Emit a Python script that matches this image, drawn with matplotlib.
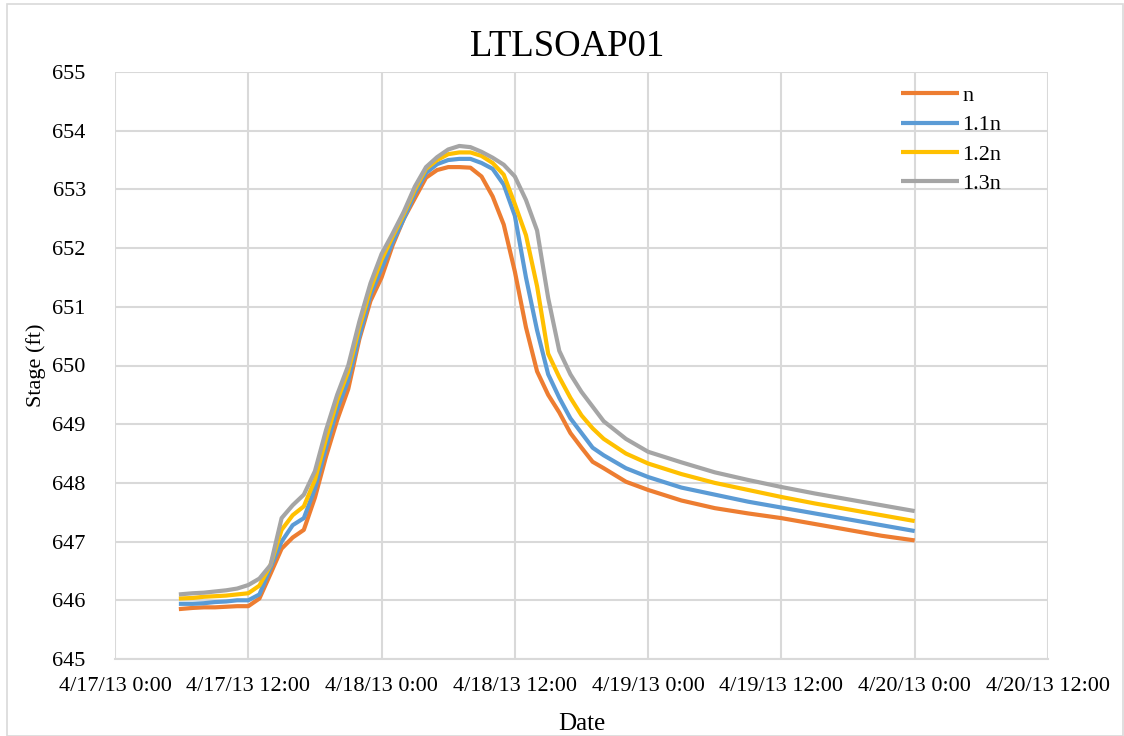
import datetime as dt
import matplotlib
matplotlib.use("Agg")
import matplotlib.pyplot as plt
import matplotlib.dates as mdates
from matplotlib.patches import Rectangle

plt.rcParams['font.family'] = ['Liberation Serif', 'DejaVu Serif']

# Hours since 4/17/13 0:00
hours = [5.75, 7, 8, 9, 10, 11, 12, 13, 14, 15, 16, 17, 18, 19, 20, 21, 22, 23, 24,
         25, 26, 27, 28, 29, 30, 31, 32, 33, 34, 35, 36, 37, 38, 39, 40, 41, 42, 43, 44,
         46, 48, 51, 54, 57, 60, 63, 66, 69, 72]

stage_n = [645.85, 645.87, 645.88, 645.88, 645.89, 645.90, 645.90, 646.03, 646.45, 646.88,
           647.07, 647.20, 647.75, 648.45, 649.07, 649.60, 650.45, 651.10, 651.50,
           652.05, 652.50, 652.85, 653.20, 653.33, 653.38, 653.38, 653.37, 653.22, 652.88,
           652.40, 651.60, 650.65, 649.90, 649.50, 649.20, 648.85, 648.60, 648.36, 648.25,
           648.02, 647.88, 647.70, 647.57, 647.48, 647.40, 647.30, 647.20, 647.10, 647.02]

stage_11n = [645.94, 645.94, 645.95, 645.97, 645.98, 646.00, 646.00, 646.10, 646.55, 647.00,
             647.28, 647.40, 647.90, 648.60, 649.25, 649.75, 650.50, 651.20, 651.65,
             652.10, 652.50, 652.93, 653.28, 653.43, 653.50, 653.52, 653.52, 653.45, 653.35,
             653.08, 652.55, 651.50, 650.60, 649.85, 649.45, 649.10, 648.85, 648.60, 648.47,
             648.25, 648.10, 647.92, 647.80, 647.68, 647.58, 647.48, 647.38, 647.28, 647.18]

stage_12n = [646.03, 646.04, 646.06, 646.07, 646.08, 646.10, 646.12, 646.25, 646.60, 647.20,
             647.45, 647.60, 648.05, 648.75, 649.40, 649.90, 650.65, 651.30, 651.80,
             652.20, 652.58, 653.00, 653.35, 653.50, 653.60, 653.63, 653.63, 653.57, 653.45,
             653.25, 652.75, 652.22, 651.35, 650.20, 649.80, 649.45, 649.15, 648.93, 648.75,
             648.50, 648.33, 648.15, 648.00, 647.88, 647.76, 647.65, 647.55, 647.45, 647.35]

stage_13n = [646.10, 646.12, 646.13, 646.15, 646.17, 646.20, 646.26, 646.37, 646.60, 647.40,
             647.62, 647.80, 648.20, 648.90, 649.50, 650.00, 650.75, 651.40, 651.90,
             652.25, 652.62, 653.05, 653.38, 653.55, 653.68, 653.74, 653.72, 653.64, 653.54,
             653.42, 653.22, 652.82, 652.30, 651.15, 650.25, 649.85, 649.55, 649.30, 649.05,
             648.75, 648.53, 648.35, 648.18, 648.05, 647.93, 647.82, 647.72, 647.62, 647.52]

series_labels = ['n', '1.1n', '1.2n', '1.3n']
series_colors = ['#ED7D31', '#5B9BD5', '#FFC000', '#A5A5A5']

start = dt.datetime(2013, 4, 17, 0, 0)
times = [start + dt.timedelta(hours=h) for h in hours]

fig = plt.figure(figsize=(11.24, 7.36), dpi=100)
ax = fig.add_axes([115/1124, 1 - 659/736, (1048 - 115)/1124, (659 - 72)/736])

for vals, lab, col in zip([stage_n, stage_11n, stage_12n, stage_13n], series_labels, series_colors):
    ax.plot(times, vals, color=col, lw=3.0, label=lab, solid_capstyle='butt')

ax.set_xlim(start, start + dt.timedelta(hours=84))
ax.set_ylim(645, 655)
ax.xaxis.set_major_locator(mdates.HourLocator(byhour=[0, 12]))

def fmt(x, pos=None):
    d = mdates.num2date(x)
    return f"{d.month}/{d.day}/{d:%y} {d.hour}:{d:%M}"

ax.xaxis.set_major_formatter(plt.FuncFormatter(fmt))
ax.set_yticks(range(645, 656))

ax.grid(True, color='#d9d9d9', lw=1.5)
ax.set_axisbelow(True)
for s in ['top', 'right', 'left']:
    ax.spines[s].set_visible(False)
ax.spines['bottom'].set_color('#d9d9d9')
ax.spines['bottom'].set_linewidth(1.5)
ax.tick_params(axis='both', length=0, labelsize=16, colors='black')
ax.tick_params(axis='x', pad=13)
ax.tick_params(axis='y', pad=21)

fig.text(567/1124, 1 - 47/736, 'LTLSOAP01', fontsize=26.5, ha='center', va='center')
ax.set_xlabel('Date', fontsize=18, labelpad=12)
ax.set_ylabel('Stage (ft)', fontsize=16, labelpad=5)

leg = ax.legend(loc='upper left', bbox_to_anchor=(0.8286, 1.0), frameon=False,
                fontsize=16, handlelength=2.6, handletextpad=0.15, labelspacing=0.4,
                borderaxespad=0.2)

fig.patches.append(Rectangle((7/1124, 0), 1116/1124, 1 - 4/736, transform=fig.transFigure,
                             fill=False, edgecolor='#d9d9d9', lw=1.2))

fig.savefig('out.png', dpi=100)
